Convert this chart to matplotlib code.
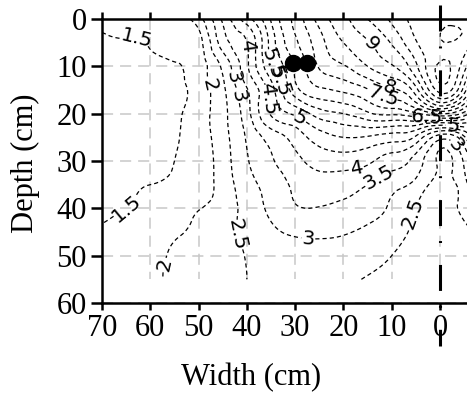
import numpy as np
import matplotlib
matplotlib.use('Agg')
import matplotlib.pyplot as plt
import matplotlib.tri as mtri

plt.rcParams['font.family'] = ['Liberation Serif', 'DejaVu Serif']
plt.rcParams['lines.scale_dashes'] = False

# grid of the field
width_cm = [70, 65, 60, 55, 50, 45, 40, 35, 30, 25, 20, 15, 10, 5, 0, -6]
depth_cm = [0, 5, 10, 15, 20, 25, 30, 35, 40, 45, 50, 55]

row_d0 = [1.60, 1.70, 1.80, 1.90, 2.30, 3.60, 4.80, 6.05, 7.15, 8.20, 8.85, 9.50, 10.10, 10.70, 10.90, 10.80]
row_d5 = [1.45, 1.47, 1.55, 1.70, 1.80, 3.25, 4.00, 5.70, 6.90, 7.80, 8.50, 8.95, 9.55, 10.45, 10.98, 10.70]
row_d10 = [1.38, 1.35, 1.38, 1.45, 1.75, 2.60, 3.90, 5.40, 6.55, 7.55, 7.95, 8.50, 8.95, 9.90, 11.10, 9.80]
row_d15 = [1.32, 1.30, 1.32, 1.38, 1.70, 2.40, 3.45, 4.75, 6.30, 6.90, 7.10, 7.45, 7.90, 8.80, 10.70, 8.60]
row_d20 = [1.35, 1.30, 1.30, 1.42, 1.75, 2.35, 3.30, 4.55, 5.10, 5.75, 6.00, 6.40, 6.60, 6.90, 7.50, 6.50]
row_d25 = [1.35, 1.30, 1.30, 1.45, 1.75, 2.30, 3.05, 3.70, 4.20, 4.75, 5.00, 4.95, 4.75, 4.40, 3.20, 4.30]
row_d30 = [1.40, 1.35, 1.35, 1.50, 1.72, 2.25, 2.95, 3.45, 3.85, 4.20, 4.25, 4.10, 3.75, 3.30, 2.40, 3.40]
row_d35 = [1.45, 1.45, 1.50, 1.55, 1.75, 2.20, 2.80, 3.20, 3.60, 3.75, 3.70, 3.50, 3.15, 2.85, 2.30, 3.05]
row_d40 = [1.45, 1.50, 1.60, 1.75, 1.98, 2.20, 2.70, 3.10, 3.45, 3.48, 3.40, 3.20, 2.92, 2.48, 2.30, 2.70]
row_d45 = [1.55, 1.65, 1.80, 1.95, 2.10, 2.35, 2.60, 2.90, 3.07, 3.10, 3.05, 2.90, 2.70, 2.40, 2.25, 2.45]
row_d50 = [1.70, 1.78, 1.90, 2.05, 2.20, 2.35, 2.52, 2.72, 2.85, 2.85, 2.78, 2.65, 2.50, 2.32, 2.20, 2.35]
row_d55 = [1.75, 1.82, 1.92, 2.08, 2.22, 2.35, 2.50, 2.65, 2.75, 2.72, 2.60, 2.47, 2.38, 2.28, 2.20, 2.30]

levels = np.arange(1.5, 11.01, 0.5)

# emitters
drip_x = [30.4, 27.5]
drip_y = [9.3, 9.3]

x_ticks = [70, 60, 50, 40, 30, 20, 10, 0]
y_ticks = [0, 10, 20, 30, 40, 50, 60]

# where the isoline numbers sit
label_spots = [(63, 5), (65, 40), (47.6, 14), (57, 52), (43.5, 46), (4.8, 41.4),
               (43.5, 12.3), (27.3, 46.7), (-3.0, 26.8), (40.8, 16), (12.8, 33.4),
               (40, 5.9), (17.2, 31.5), (36.2, 17), (29.4, 21.8), (35.2, 9.7),
               (-2.7, 22.4), (32.7, 12.9), (2.7, 21.0), (11.8, 16.5), (10.4, 14.4),
               (14, 5)]

Z = np.array([row_d0, row_d5, row_d10, row_d15, row_d20, row_d25,
              row_d30, row_d35, row_d40, row_d45, row_d50, row_d55])
X, Y = np.meshgrid(width_cm, depth_cm)

fig = plt.figure(figsize=(4.67, 3.94), dpi=100)
ax = fig.add_axes([102 / 467, 91 / 394, 365 / 467, 284 / 394])

# grid
ax.hlines(y_ticks, 70, -6, colors='#c8c8c8', linewidth=1.1,
          linestyles=[(0, (8, 5))], zorder=0.5)
ax.vlines(x_ticks, 0, 55, colors='#c8c8c8', linewidth=1.1,
          linestyles=[(0, (8, 5))], zorder=0.5)

tri = mtri.Triangulation(X.ravel(), Y.ravel())
refiner = mtri.UniformTriRefiner(tri)
tri_f, z_f = refiner.refine_field(Z.ravel(), subdiv=3)
cs = ax.tricontour(tri_f, z_f, levels=levels, colors='black', linewidths=0.9)
cs.set_linestyle((0, (3.0, 2.2)))
labels = ax.clabel(cs, manual=label_spots, fmt='%g', fontsize=14.5, inline=True,
                   inline_spacing=2)
for t in labels:
    t.set_fontfamily('DejaVu Sans')

# dash-dot line along the row
ax.plot([0, 0], [-2.9, 69], color='black', linewidth=2.2, solid_capstyle='butt',
        dash_capstyle='butt', linestyle=(0, (18.7, 10.8, 1.4, 15.8)),
        clip_on=False, zorder=4)

ax.plot(drip_x, drip_y, 'o', color='black', markersize=11.5, zorder=5)

ax.set_xlim(70, -5.59)
ax.set_ylim(60, 0)
ax.set_xticks(x_ticks)
ax.set_yticks(y_ticks)
ax.tick_params(axis='x', which='both', direction='out', length=5, width=1.8,
               labelsize=22, pad=3, top=True, bottom=True)
ax.tick_params(axis='y', direction='out', length=8, width=1.8, labelsize=22, pad=3)
for s in ['left', 'top', 'bottom']:
    ax.spines[s].set_linewidth(1.8)
ax.spines['right'].set_visible(False)

ax.set_xlabel('Width (cm)', fontsize=22)
ax.set_ylabel('Depth (cm)', fontsize=22)
ax.xaxis.set_label_coords(0.408, -0.211)
ax.yaxis.set_label_coords(-0.171, 0.491)

fig.savefig('out.png', dpi=100)
